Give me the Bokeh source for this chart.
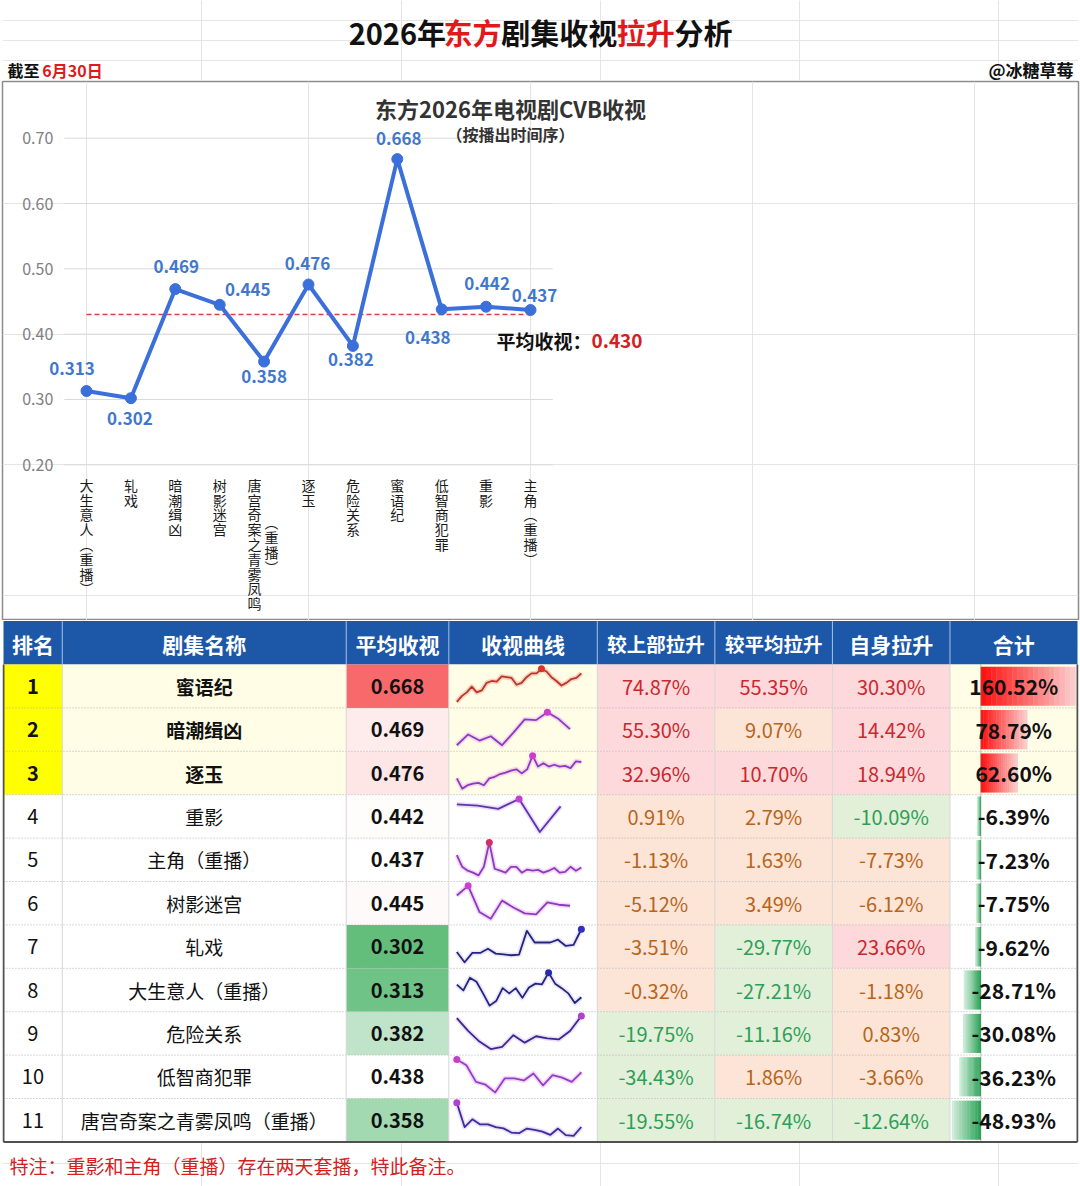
import numpy as np
from bokeh.plotting import figure
from bokeh.layouts import column
from bokeh.models import Range1d, LinearAxis, FixedTicker, PrintfTickFormatter, ColumnDataSource
from bokeh.core.properties import value
from bokeh.embed import file_html
from bokeh.resources import INLINE

# ======================= DATA =======================
page_title_parts = ["2026年", "东方", "剧集收视", "拉升", "分析"]
date_note_parts = ["截至", "6月30日"]
author_note = "@冰糖草莓"
chart_title = "东方2026年电视剧CVB收视"
chart_subtitle = "（按播出时间序）"
avg_caption = "平均收视："
footnote = "特注：重影和主角（重播）存在两天套播，特此备注。"

# line chart (broadcast order)
broadcast_order = ["大生意人（重播）", "轧戏", "暗潮缉凶", "树影迷宫", "唐宫奇案之青雾凤鸣（重播）",
                   "逐玉", "危险关系", "蜜语纪", "低智商犯罪", "重影", "主角（重播）"]
broadcast_ratings = [0.313, 0.302, 0.469, 0.445, 0.358, 0.476, 0.382, 0.668, 0.438, 0.442, 0.437]
rating_ticks = [0.20, 0.30, 0.40, 0.50, 0.60, 0.70]

# ranking table
table_headers = ["排名", "剧集名称", "平均收视", "收视曲线", "较上部拉升", "较平均拉升", "自身拉升", "合计"]
ranks = [1, 2, 3, 4, 5, 6, 7, 8, 9, 10, 11]
drama_names = ["蜜语纪", "暗潮缉凶", "逐玉", "重影", "主角（重播）", "树影迷宫", "轧戏",
               "大生意人（重播）", "危险关系", "低智商犯罪", "唐宫奇案之青雾凤鸣（重播）"]
avg_ratings = [0.668, 0.469, 0.476, 0.442, 0.437, 0.445, 0.302, 0.313, 0.382, 0.438, 0.358]
lift_vs_previous = [74.87, 55.30, 32.96, 0.91, -1.13, -5.12, -3.51, -0.32, -19.75, -34.43, -19.55]
lift_vs_average = [55.35, 9.07, 10.70, 2.79, 1.63, 3.49, -29.77, -27.21, -11.16, 1.86, -16.74]
lift_self = [30.30, 14.42, 18.94, -10.09, -7.73, -6.12, 23.66, -1.18, 0.83, -3.66, -12.64]
lift_total = [160.52, 78.79, 62.60, -6.39, -7.23, -7.75, -9.62, -28.71, -30.08, -36.23, -48.93]

# per-episode rating curves (sparklines), rank order; nan = empty slot
nan = float("nan")
spark_01 = [0.509, 0.554, 0.584, 0.629, 0.584, 0.599, 0.659, 0.674, 0.668, 0.710, 0.704, 0.698, 0.644,
            0.659, 0.704, 0.734, 0.734, 0.770, 0.749, 0.704, 0.674, 0.638, 0.659, 0.689, 0.698, 0.734]
spark_02 = [0.387, 0.447, 0.413, 0.437, 0.387, 0.457, 0.531, 0.527, 0.571, 0.533, 0.477, nan]
spark_03 = [0.448, 0.403, 0.418, 0.425, 0.428, 0.418, 0.448, 0.455, 0.467, 0.473, 0.482, 0.488,
            0.470, 0.488, 0.548, 0.500, 0.515, 0.500, 0.508, 0.500, 0.503, 0.493, 0.523, 0.520]
spark_04 = [0.462, 0.457, 0.444, 0.484, 0.349, 0.454, nan]
spark_05 = [0.505, 0.445, 0.425, 0.415, 0.401, 0.445, 0.569, 0.435, 0.425, 0.415, 0.445, 0.445,
            0.415, 0.431, 0.425, 0.429, 0.415, 0.425, 0.439, 0.415, 0.419, 0.445, 0.425, 0.441]
spark_06 = [0.503, 0.559, 0.407, 0.367, 0.473, 0.433, 0.399, 0.393, 0.463, 0.449, 0.443, nan]
spark_07 = [0.282, 0.238, 0.278, 0.278, 0.296, 0.275, 0.272, 0.268, 0.271, 0.373, 0.323, 0.323,
            0.323, 0.335, 0.308, 0.313, 0.380]
spark_08 = [0.329, 0.311, 0.350, 0.338, 0.302, 0.264, 0.278, 0.318, 0.302, 0.318, 0.288, 0.320,
            0.332, 0.330, 0.366, 0.332, 0.318, 0.302, 0.272, 0.290]
spark_09 = [0.446, 0.398, 0.358, 0.330, 0.338, 0.382, 0.354, 0.378, 0.370, 0.366, 0.398, 0.454]
spark_10 = [0.516, 0.491, 0.420, 0.408, 0.375, 0.435, 0.435, 0.426, 0.456, 0.405, 0.449, 0.438,
            0.420, 0.461]
spark_11 = [0.471, 0.361, 0.396, 0.373, 0.373, 0.361, 0.355, 0.336, 0.333, 0.354, 0.348, 0.340,
            0.325, 0.354, 0.324, 0.321, 0.361]
spark_series = [spark_01, spark_02, spark_03, spark_04, spark_05, spark_06, spark_07, spark_08,
                spark_09, spark_10, spark_11]

# ======================= STYLE =======================
FONT = "Noto Sans CJK SC"
RED = "#e0191b"
BLUE_LINE = "#3b6fd9"
BLUE_LABEL = "#3f78cc"
HEADER_BLUE = "#1c57a8"

label_dx = [-14.5, -1, 1, 28, 0, -1, -2, 1.5, -14, 1, 4]
label_dy = [-22.8, 20, -23, -15.3, 15, -21, 13.6, -20.6, 28, -23.5, -14.5]

spark_line_colors = ["#b8372b", "#8a3cc0", "#8a3cc0", "#5b34b0", "#8a3cc0", "#8a3cc0",
                     "#25237e", "#25237e", "#3a2890", "#9040c8", "#3e2a98"]
spark_marker_colors = ["#d9342b", "#d03cd0", "#d03cd0", "#c040d0", "#d0306a", "#d040d0",
                       "#3030c0", "#2828b0", "#b040d0", "#c040c8", "#b040d0"]
spark_glow_colors = ["#f0a090", "#e8a8f0", "#e8a8f0", "#d8b0f0", "#e8a8f0", "#e8a8f0",
                     "#c8c8f0", "#c8c8f0", "#d8b8f0", "#e8a8f0", "#d0b8f0"]


def hex2rgb(h):
    return tuple(int(h[i:i + 2], 16) for i in (1, 3, 5))


def mix(c1, c2, t):
    a, b = hex2rgb(c1), hex2rgb(c2)
    t = max(0.0, min(1.0, t))
    return "#%02x%02x%02x" % tuple(int(round(a[i] + (b[i] - a[i]) * t)) for i in range(3))


def text_width(s, size):
    w = 0.0
    for ch in s:
        if ord(ch) >= 0x2E80:
            w += size
        elif ch == ".":
            w += 0.27 * size
        else:
            w += 0.57 * size
    return w


def bare(p):
    p.outline_line_color = None
    p.background_fill_color = "white"
    p.border_fill_color = "white"


# ======================= FIGURE A: page header =======================
A_H = 81
fa = figure(width=1080, height=A_H, x_range=Range1d(0, 1080), y_range=Range1d(A_H, 0),
            x_axis_location=None, y_axis_location=None, min_border=0,
            output_backend="svg", toolbar_location=None)
bare(fa)
title_colors = ["#111111", RED, "#111111", RED, "#111111"]
TS = 29
total_w = sum(text_width(s, TS) for s in page_title_parts)
x_cur = 540 - total_w / 2
for part, col in zip(page_title_parts, title_colors):
    fa.text(x=[x_cur], y=[31], text=[part], text_font=value(FONT), text_font_size=f"{TS}px",
            text_font_style="bold", text_color=col, text_align="left", text_baseline="middle")
    x_cur += text_width(part, TS)
fa.text(x=[5], y=[69], text=[date_note_parts[0]], text_font=value(FONT), text_font_size="16px",
        text_font_style="bold", text_color="#111111", text_align="left", text_baseline="middle")
fa.text(x=[5 + text_width(date_note_parts[0], 16) + 3], y=[69], text=[date_note_parts[1]],
        text_font=value(FONT), text_font_size="16px", text_font_style="bold", text_color=RED,
        text_align="left", text_baseline="middle")
fa.text(x=[1075], y=[69], text=[author_note], text_font=value(FONT), text_font_size="17px",
        text_font_style="bold", text_color="#111111", text_align="right", text_baseline="middle")

# ======================= FIGURE B: line chart =======================
B_TOP, B_BOT = A_H, 620
B_H = B_BOT - B_TOP
PX_X0, PX_DX = 86.0, 44.4          # pixel of first category, category pitch
PX_Y020, PX_PER = 464.3, 653.2     # pixel of 0.20, pixels per 1.0 rating
xr = Range1d((2 - PX_X0) / PX_DX, (1078 - PX_X0) / PX_DX)
yr = Range1d(0.2 - (B_BOT - PX_Y020) / PX_PER, 0.2 + (PX_Y020 - B_TOP) / PX_PER)
fb = figure(width=1080, height=B_H, x_range=xr, y_range=yr, x_axis_location=None, y_axis_location=None,
            min_border_left=2, min_border_right=2, min_border_top=0, min_border_bottom=0,
            output_backend="svg", toolbar_location=None)
fb.background_fill_color = "white"
fb.border_fill_color = "white"
fb.outline_line_color = "#8c8c8c"
fb.outline_line_width = 1.5
fb.extra_x_ranges = {"px": Range1d(2, 1078)}
fb.extra_y_ranges = {"px": Range1d(B_BOT, B_TOP)}

n = len(broadcast_order)
idx = list(range(n))

yaxis = LinearAxis(fixed_location=-0.5, ticker=FixedTicker(ticks=rating_ticks),
                   formatter=PrintfTickFormatter(format="%.2f"))
yaxis.axis_line_color = None
yaxis.major_tick_line_color = None
yaxis.minor_tick_line_color = None
yaxis.major_tick_out = 0
yaxis.major_tick_in = 0
yaxis.minor_tick_out = 0
yaxis.major_label_text_font = FONT
yaxis.major_label_text_font_size = "16px"
yaxis.major_label_text_color = "#808080"
yaxis.major_label_standoff = 11
fb.add_layout(yaxis, "left")

# horizontal gridlines across the category band
fb.segment(x0=[-0.5] * len(rating_ticks), x1=[n - 0.5] * len(rating_ticks), y0=rating_ticks, y1=rating_ticks,
           line_color="#d9d9d9", line_width=1)

avg_all = float(np.mean(broadcast_ratings))
fb.segment(x0=[0], x1=[n - 1], y0=[avg_all], y1=[avg_all], line_color="#e03c3c", line_width=1.6,
           line_dash="5 3")

fb.line(idx, broadcast_ratings, line_color=BLUE_LINE, line_width=4, line_join="round")
fb.scatter(idx, broadcast_ratings, size=11, fill_color=BLUE_LINE, line_color=BLUE_LINE)

lab_src = ColumnDataSource(dict(x=idx, y=broadcast_ratings, t=[f"{v:.3f}" for v in broadcast_ratings],
                                dx=label_dx, dy=label_dy))
fb.text(x="x", y="y", text="t", x_offset="dx", y_offset="dy", source=lab_src, text_font=value(FONT),
        text_font_size="17px", text_font_style="bold", text_color=BLUE_LABEL, text_align="center",
        text_baseline="middle")

# vertical category labels
vert_map = {"（": "︵", "）": "︶"}
LINE_PX = 15
LINE_H = 0.74
for i, name in enumerate(broadcast_order):
    if len(name) > 10 and "（" in name:
        cut = name.index("（")
        cols = [name[:cut], name[cut:]]
        xoffs = [-9.5, 7.5]
    else:
        cols = [name]
        xoffs = [0]
    longest = max(len(c) for c in cols)
    for c, xo in zip(cols, xoffs):
        txt = "\n".join(vert_map.get(ch, ch) for ch in c)
        yo = 10 + (longest - len(c)) * LINE_PX / 2
        fb.text(x=[i], y=[rating_ticks[0]], text=[txt], x_offset=xo, y_offset=yo, text_font=value(FONT),
                text_font_size="14px", text_color="#1a1a1a", text_align="center", text_baseline="top",
                text_line_height=LINE_H)

# avg caption
fb.text(x=[n - 1], y=[avg_all], text=[avg_caption], x_offset=-34, y_offset=26, text_font=value(FONT),
        text_font_size="19px", text_font_style="bold", text_color="#111111", text_align="left",
        text_baseline="middle")
fb.text(x=[n - 1], y=[avg_all], text=[f"{avg_all:.3f}"], x_offset=61, y_offset=26, text_font=value(FONT),
        text_font_size="19px", text_font_style="bold", text_color="#d42020", text_align="left",
        text_baseline="middle")

# chart titles
fb.text(x=[510], y=[107], text=[chart_title], x_range_name="px", y_range_name="px", text_font=value(FONT),
        text_font_size="22px", text_font_style="bold", text_color="#333333", text_align="center",
        text_baseline="middle")
fb.text(x=[510], y=[133], text=[chart_subtitle], x_range_name="px", y_range_name="px", text_font=value(FONT),
        text_font_size="16px", text_font_style="bold", text_color="#333333", text_align="center",
        text_baseline="middle")

# ======================= FIGURE C: ranking table =======================
C_TOP = B_BOT
C_H = 1186 - C_TOP
ROW_H = 43.4
HEADER_TOP = 620.6
yr_c = Range1d((C_TOP + C_H - HEADER_TOP) / ROW_H - 0.5, (C_TOP - HEADER_TOP) / ROW_H - 0.5)
fc = figure(width=1080, height=C_H, x_range=Range1d(0, 1080), y_range=yr_c, x_axis_location=None,
            y_axis_location=None, min_border=0, output_backend="svg", toolbar_location=None)
bare(fc)
fc.extra_y_ranges = {"px": Range1d(C_TOP + C_H, C_TOP)}

edges = [1, 60, 345, 448, 597, 715, 833, 951, 1079]
centers = [(edges[j] + edges[j + 1]) / 2 for j in range(len(edges) - 1)]
nrows = len(ranks)

# header
fc.quad(left=[edges[0]], right=[edges[-1]], top=[-0.5], bottom=[0.5], fill_color=HEADER_BLUE, line_color=None)
for j, h in enumerate(table_headers):
    fs = "19.5px" if len(h) >= 5 else "21px"
    fc.text(x=[centers[j]], y=[0.02], text=[h], text_font=value(FONT), text_font_size=fs, text_font_style="bold",
            text_color="white", text_align="center", text_baseline="middle")

# cell backgrounds
lo_r, hi_r, med_r = min(avg_ratings), max(avg_ratings), float(np.median(avg_ratings))


def rating_color(v):
    if v <= med_r:
        return mix("#63be7b", "#ffffff", (v - lo_r) / (med_r - lo_r))
    return mix("#ffffff", "#f8696b", (v - med_r) / (hi_r - med_r))


def lift_style(v):
    if v >= 10:
        return "#fdd9dc", "#c9282d"
    if v <= -10:
        return "#e2f0da", "#2f9e56"
    return "#fce4d6", "#b8651b"


L, R, T, B, F = [], [], [], [], []
for k in range(1, nrows + 1):
    r = k - 1
    top3 = ranks[r] <= 3
    row_bg = "#fffde6" if top3 else "#ffffff"
    fills = ["#ffff00" if top3 else "#ffffff", row_bg, rating_color(avg_ratings[r]), row_bg,
             lift_style(lift_vs_previous[r])[0], lift_style(lift_vs_average[r])[0],
             lift_style(lift_self[r])[0], row_bg]
    for j in range(8):
        L.append(edges[j]); R.append(edges[j + 1]); T.append(k - 0.5); B.append(k + 0.5); F.append(fills[j])
fc.quad(left=L, right=R, top=T, bottom=B, fill_color=F, line_color=None)

# data bars in total column
inner_l, inner_r = edges[7] + 2, edges[8] - 2
tmin, tmax = min(lift_total), max(lift_total)
span = tmax - tmin
axis_x = inner_l + (0 - tmin) / span * (inner_r - inner_l)
NSEG = 18
bl, br, bt, bb, bf = [], [], [], [], []
for k, t in enumerate(lift_total, start=1):
    end = axis_x + t / span * (inner_r - inner_l)
    c0, c1 = ("#ff0d0d", "#fbd0d0") if t >= 0 else ("#27a055", "#d3eedb")
    for s in range(NSEG):
        a = axis_x + (end - axis_x) * s / NSEG
        b = axis_x + (end - axis_x) * (s + 1) / NSEG
        bl.append(min(a, b) - 0.2); br.append(max(a, b) + 0.2)
        bt.append(k - 0.45); bb.append(k + 0.45)
        bf.append(mix(c0, c1, (s + 0.5) / NSEG))
fc.quad(left=bl, right=br, top=bt, bottom=bb, fill_color=bf, line_color=None)
fc.segment(x0=[axis_x], x1=[axis_x], y0=[0.5], y1=[nrows + 0.5], line_color="#5a8a6a", line_width=1,
           line_dash="1 1")

# sparklines
SP_L, SP_R = edges[3] + 8, edges[4] - 16
for k, series in enumerate(spark_series, start=1):
    vals = np.array(series, dtype=float)
    m = len(vals)
    xs = SP_L + np.arange(m) * (SP_R - SP_L) / (m - 1)
    vmin, vmax = np.nanmin(vals), np.nanmax(vals)
    norm = (vals - vmin) / (vmax - vmin)
    ys = (k - 0.5) + 0.10 + (1 - norm) * 0.76
    r = k - 1
    fc.line(xs, ys, line_color=spark_glow_colors[r], line_width=5, line_alpha=0.45, line_join="round")
    fc.line(xs, ys, line_color=spark_line_colors[r], line_width=1.8, line_join="round")
    im = int(np.nanargmax(vals))
    fc.scatter([xs[im]], [ys[im]], size=7, fill_color=spark_marker_colors[r], line_color=None)

# grid lines
fc.segment(x0=[edges[0]] * (nrows - 1), x1=[edges[-1]] * (nrows - 1), y0=[k + 0.5 for k in range(1, nrows)],
           y1=[k + 0.5 for k in range(1, nrows)], line_color="#b0b0b0", line_width=1, line_dash="1 2")
fc.segment(x0=edges[1:-1], x1=edges[1:-1], y0=[0.5] * 7, y1=[nrows + 0.5] * 7, line_color="#d6d6d6", line_width=1)
fc.segment(x0=edges[1:-1], x1=edges[1:-1], y0=[-0.5] * 7, y1=[0.5] * 7, line_color="#a9c1e6", line_width=1)
fc.segment(x0=[edges[0], edges[-1]], x1=[edges[0], edges[-1]], y0=[0.5, 0.5], y1=[nrows + 0.5, nrows + 0.5],
           line_color="#505050", line_width=2)
fc.segment(x0=[edges[0]], x1=[edges[-1]], y0=[nrows + 0.5], y1=[nrows + 0.5], line_color="#505050", line_width=2)

# texts
for r in range(nrows):
    k = r + 1
    top3 = ranks[r] <= 3
    wt = "bold" if top3 else "normal"
    fc.text(x=[centers[0]], y=[k], text=[str(ranks[r])], text_font=value(FONT), text_font_size="20px",
            text_font_style=wt, text_color="#111111", text_align="center", text_baseline="middle")
    fc.text(x=[centers[1]], y=[k], text=[drama_names[r]], text_font=value(FONT), text_font_size="19px",
            text_font_style=wt, text_color="#111111", text_align="center", text_baseline="middle")
    fc.text(x=[centers[2]], y=[k], text=[f"{avg_ratings[r]:.3f}"], text_font=value(FONT), text_font_size="20px",
            text_font_style="bold", text_color="#111111", text_align="center", text_baseline="middle")
    for j, arr in zip([4, 5, 6], [lift_vs_previous, lift_vs_average, lift_self]):
        fc.text(x=[centers[j]], y=[k], text=[f"{arr[r]:.2f}%"], text_font=value(FONT), text_font_size="20px",
                text_color=lift_style(arr[r])[1], text_align="center", text_baseline="middle")
    fc.text(x=[centers[7]], y=[k], text=[f"{lift_total[r]:.2f}%"], text_font=value(FONT), text_font_size="21px",
            text_font_style="bold", text_color="#111111", text_align="center", text_baseline="middle")

fc.text(x=[7], y=[1165], y_range_name="px", text=[footnote], text_font=value(FONT), text_font_size="19px",
        text_color="#d42020", text_align="left", text_baseline="middle")

layout = column(fa, fb, fc, spacing=0)
open("out.html", "w").write(file_html(layout, INLINE, title="2026年东方剧集收视拉升分析"))
